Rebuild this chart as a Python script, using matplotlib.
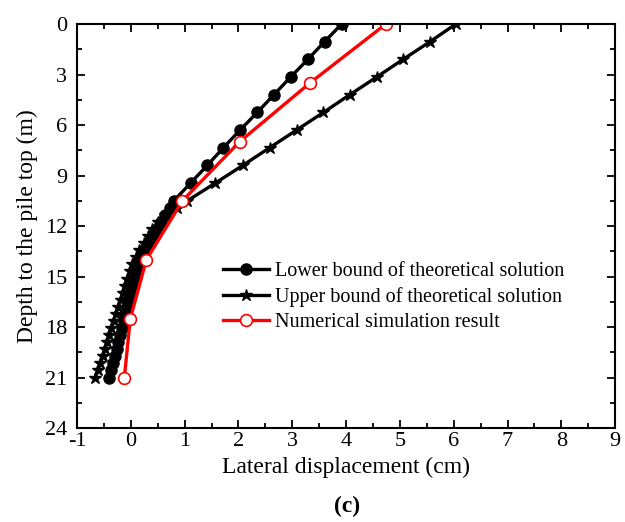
import matplotlib
matplotlib.use("Agg")
import matplotlib.pyplot as plt
from matplotlib.ticker import MultipleLocator

plt.rcParams['font.family'] = ['Liberation Serif', 'DejaVu Serif']
plt.rcParams['axes.unicode_minus'] = False

# Depths (m)
depth_theory = [0.0, 1.05, 2.10, 3.15, 4.20, 5.25, 6.30, 7.35, 8.40, 9.45,
                10.50, 10.92, 11.34, 11.76, 12.18, 12.60, 13.02, 13.44, 13.86,
                14.28, 14.70, 15.12, 15.54, 15.96, 16.38, 16.80, 17.22, 17.64,
                18.06, 18.48, 18.90, 19.32, 19.74, 20.16, 20.58, 21.00]

lower_bound = [3.92, 3.60, 3.29, 2.97, 2.66, 2.35, 2.03, 1.72, 1.42, 1.11,
               0.80, 0.72, 0.64, 0.57, 0.49, 0.42, 0.35, 0.27, 0.20,
               0.15, 0.10, 0.06, 0.02, -0.02, -0.05, -0.08, -0.11, -0.13,
               -0.17, -0.20, -0.23, -0.26, -0.30, -0.33, -0.36, -0.40]

upper_bound = [6.04, 5.56, 5.06, 4.57, 4.07, 3.58, 3.08, 2.58, 2.08, 1.57,
               1.05, 0.86, 0.64, 0.50, 0.40, 0.32, 0.24, 0.16, 0.09,
               0.03, -0.02, -0.07, -0.11, -0.15, -0.19, -0.23, -0.28, -0.32,
               -0.36, -0.40, -0.44, -0.48, -0.52, -0.57, -0.61, -0.66]

depth_num = [0.0, 3.5, 7.0, 10.5, 14.0, 17.5, 21.0]
numerical = [4.74, 3.33, 2.02, 0.96, 0.29, -0.01, -0.12]

labels = ["Lower bound of theoretical solution",
          "Upper bound of theoretical solution",
          "Numerical simulation result"]

fig = plt.figure(figsize=(6.25, 5.22), dpi=100)
ax = fig.add_axes([0.1232, 0.180, 0.861, 0.774])

ax.plot(lower_bound, depth_theory, color='black', lw=2.4, marker='o',
        ms=8, mfc='black', mec='black', label=labels[0])
ax.plot(upper_bound, depth_theory, color='black', lw=2.4, marker='*',
        ms=9, mfc='black', mec='black', label=labels[1])
ax.plot(numerical, depth_num, color='red', lw=2.4, marker='o',
        ms=8.5, mfc='white', mec='red', mew=1.2, label=labels[2])

ax.set_xlim(-1, 9)
ax.set_ylim(24, 0)
ax.xaxis.set_major_locator(MultipleLocator(1))
ax.xaxis.set_minor_locator(MultipleLocator(0.5))
ax.yaxis.set_major_locator(MultipleLocator(3))
ax.yaxis.set_minor_locator(MultipleLocator(1.5))
ax.tick_params(which='both', direction='in', top=True, right=True,
               labelsize=16, width=1.3)
ax.tick_params(which='major', length=6)
ax.tick_params(which='minor', length=3.5)
ax.tick_params(axis='x', which='major', pad=3)
ax.tick_params(axis='y', which='major', pad=7)
for s in ax.spines.values():
    s.set_linewidth(1.5)

ax.set_xlabel("Lateral displacement (cm)", fontsize=17, labelpad=4)
ax.set_ylabel("Depth to the pile top (m)", fontsize=17, labelpad=5)

ax.legend(loc='upper left', bbox_to_anchor=(0.271, 0.412), frameon=False,
          fontsize=14.5, handlelength=2.3, handletextpad=0.3,
          labelspacing=0.3, borderaxespad=0, borderpad=0)

fig.text(0.555, 0.030, "(c)", fontsize=17, fontweight='bold', ha='center',
         va='center')

fig.savefig("out.png", dpi=100)
